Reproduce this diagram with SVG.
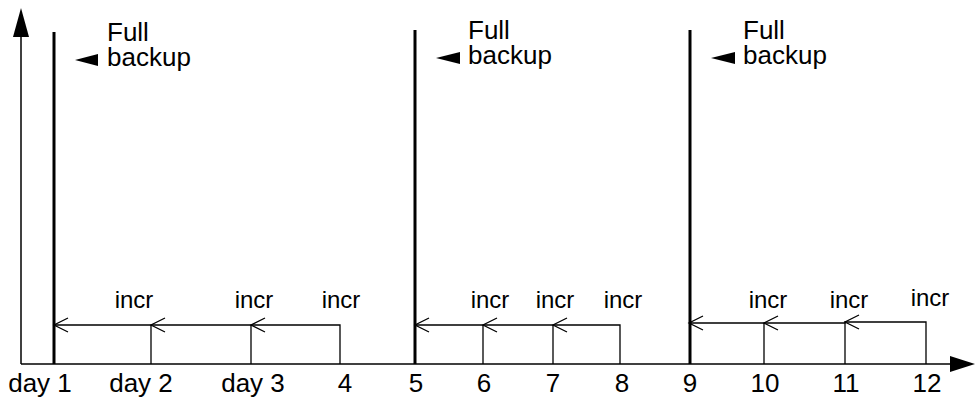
<svg xmlns="http://www.w3.org/2000/svg" width="975" height="399" viewBox="0 0 975 399">
<style>
text{font-family:"Liberation Sans",Arial,sans-serif;fill:#000}
.lbl{font-size:26px}
.incr{font-size:24px;text-anchor:middle}
.day{font-size:26px;text-anchor:middle}
.ax{stroke:#000;stroke-width:1.5;fill:none}
.full{stroke:#000;stroke-width:3;fill:none}
.ln{stroke:#000;stroke-width:1.3;fill:none}
.oh{stroke:#000;stroke-width:1.3;fill:none}
</style>
<rect width="975" height="399" fill="#fff"/>
<g id="axes">
<line class="ax" x1="21" y1="364" x2="21" y2="34"/>
<polygon points="21,8 13,37 29,37" fill="#000"/>
<line class="ax" x1="21" y1="364" x2="952" y2="364"/>
<polygon points="975,364 950,356 950,372" fill="#000"/>
</g>
<g id="full1">
<line class="full" x1="54" y1="32" x2="54" y2="364"/>
<polygon points="75,60 98,54 98,66" fill="#000"/>
<text class="lbl" x="107" y="41">Full</text>
<text class="lbl" x="107" y="66">backup</text>
</g>
<g id="full2">
<line class="full" x1="415" y1="30" x2="415" y2="364"/>
<polygon points="436,58 460,52 460,64" fill="#000"/>
<text class="lbl" x="468" y="39">Full</text>
<text class="lbl" x="468" y="64">backup</text>
</g>
<g id="full3">
<line class="full" x1="690" y1="30" x2="690" y2="364"/>
<polygon points="711,58 735,52 735,64" fill="#000"/>
<text class="lbl" x="743" y="39">Full</text>
<text class="lbl" x="743" y="64">backup</text>
</g>
<g id="connectors">
<polyline class="ln" points="340,364 340,325 54,325"/>
<line class="ln" x1="151" y1="364" x2="151" y2="325"/>
<line class="ln" x1="251" y1="364" x2="251" y2="325"/>
<polyline class="oh" points="68,318 54,325 68,332"/>
<polyline class="oh" points="165,318 151,325 165,332"/>
<polyline class="oh" points="265,318 251,325 265,332"/>
<polyline class="ln" points="620,364 620,325 415,325"/>
<line class="ln" x1="483" y1="364" x2="483" y2="325"/>
<line class="ln" x1="553" y1="364" x2="553" y2="325"/>
<polyline class="oh" points="429,318 415,325 429,332"/>
<polyline class="oh" points="497,318 483,325 497,332"/>
<polyline class="oh" points="567,318 553,325 567,332"/>
<polyline class="ln" points="926,364 926,322 845,322 845,323 690,323"/>
<line class="ln" x1="764" y1="364" x2="764" y2="323"/>
<line class="ln" x1="845" y1="364" x2="845" y2="323"/>
<polyline class="oh" points="703,316 689,323 703,330"/>
<polyline class="oh" points="778,316 764,323 778,330"/>
<polyline class="oh" points="859,315 845,322 859,329"/>
</g>
<g id="incr-labels">
<text class="incr" x="134" y="308">incr</text>
<text class="incr" x="254" y="308">incr</text>
<text class="incr" x="341" y="308">incr</text>
<text class="incr" x="490" y="308">incr</text>
<text class="incr" x="555" y="308">incr</text>
<text class="incr" x="623" y="308">incr</text>
<text class="incr" x="768" y="308">incr</text>
<text class="incr" x="849" y="308">incr</text>
<text class="incr" x="930" y="306">incr</text>
</g>
<g id="day-labels">
<text class="day" x="40" y="392">day 1</text>
<text class="day" x="141" y="392">day 2</text>
<text class="day" x="253" y="392">day 3</text>
<text class="day" x="345" y="392">4</text>
<text class="day" x="416" y="392">5</text>
<text class="day" x="484" y="392">6</text>
<text class="day" x="553" y="392">7</text>
<text class="day" x="622" y="392">8</text>
<text class="day" x="690" y="392">9</text>
<text class="day" x="765" y="392">10</text>
<text class="day" x="846" y="392">11</text>
<text class="day" x="927" y="392">12</text>
</g>
</svg>
